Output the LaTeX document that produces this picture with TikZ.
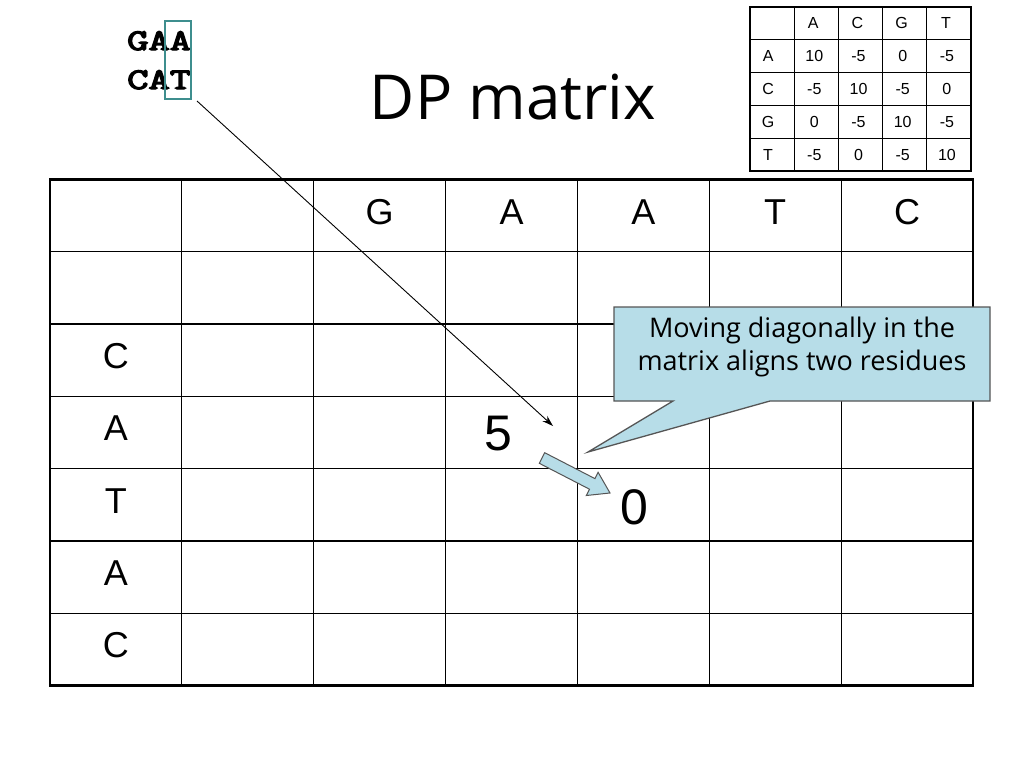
\documentclass[tikz,border=0pt]{standalone}
\usepackage{graphicx}
\usepackage{fontspec}
\setmainfont{Liberation Sans}
\newfontfamily\comicf{Open Sans}
\newfontfamily\courf[FakeBold=4]{Latin Modern Mono}
\usetikzlibrary{arrows.meta,calc}
\definecolor{calloutfill}{HTML}{B7DDE8}
\definecolor{calloutdraw}{HTML}{555555}
\definecolor{tealbox}{HTML}{3E8E8E}
\tikzset{
  cell/.style={inner sep=0pt, font=\fontsize{36}{40}\selectfont},
  bignum/.style={inner sep=0pt, font=\fontsize{50}{54}\selectfont},
  small/.style={inner sep=0pt, font=\fontsize{16}{18}\selectfont},
  seqtxt/.style={inner sep=0pt, anchor=base west, font=\courf\fontsize{30}{32}\selectfont},
  thinline/.style={line width=1.2pt, black},
  thickline/.style={line width=2.6pt, black},
}
\begin{document}
\begin{tikzpicture}[x=1pt,y=-1pt]
\useasboundingbox (0,0) rectangle (1024,768);
\fill[white] (0,0) rectangle (1024,768);

% ---------- main grid ----------
\def\gx{50}\def\gy{179.5}\def\cw{131.86}\def\rh{72.29}
\foreach \i in {1,...,6} \draw[thinline] ({\gx+\i*\cw},\gy) -- ({\gx+\i*\cw},{\gy+7*\rh});
\foreach \j in {1,...,6} \draw[thinline] (\gx,{\gy+\j*\rh}) -- ({\gx+7*\cw},{\gy+\j*\rh});
\draw[thickline] (\gx,\gy) rectangle ({\gx+7*\cw},{\gy+7*\rh});

% header letters
\foreach \l [count=\i from 2] in {G,A,A,T,C}
  \node[cell] (h\i) at ({\gx+(\i+0.5)*\cw},{\gy+0.5*\rh-4}) {\l};
\foreach \l [count=\j from 2] in {C,A,T,A,C}
  \node[cell] (r\j) at ({\gx+0.5*\cw},{\gy+(\j+0.5)*\rh-4}) {\l};

\node[bignum] (five) at (498,434) {5};
\node[bignum] (zero) at (634,507) {0};

% ---------- score table ----------
\def\sx{750}\def\sy{7}\def\scw{44.2}\def\srh{32.8}
\foreach \i in {1,...,4} \draw[line width=1pt] ({\sx+\i*\scw},\sy) -- ({\sx+\i*\scw},{\sy+5*\srh});
\foreach \j in {1,...,4} \draw[line width=1pt] (\sx,{\sy+\j*\srh}) -- ({\sx+5*\scw},{\sy+\j*\srh});
\draw[line width=2.4pt] (\sx,\sy) rectangle ({\sx+5*\scw},{\sy+5*\srh});
\foreach \l [count=\i] in {A,C,G,T}
  \node[small] (sh\i) at ({\sx+(\i+0.5)*\scw-3},{\sy+0.5*\srh}) {\l};
\foreach \l [count=\j] in {A,C,G,T}
  \node[small] (sr\j) at ({\sx+0.5*\scw-4},{\sy+(\j+0.5)*\srh}) {\l};
\foreach \row [count=\j] in {{10,-5,0,-5},{-5,10,-5,0},{0,-5,10,-5},{-5,0,-5,10}}
  \foreach \v [count=\i] in \row
    \node[small] (s\j\i) at ({\sx+(\i+0.5)*\scw-2},{\sy+(\j+0.5)*\srh}) {\v};

% ---------- title ----------
\node[inner sep=0pt, font=\comicf\fontsize{62}{64}\selectfont] (title) at (513,97) {DP matrix};

% ---------- sequences ----------
\node[seqtxt] (gaa) at (127,50) {\scalebox{1.38}[1]{GAA}};
\node[seqtxt] (cat) at (127,89) {\scalebox{1.38}[1]{CAT}};
\node[draw=tealbox, line width=2pt, minimum width=26pt, minimum height=78pt, inner sep=0pt] (colbox) at (178,60) {};

\coordinate (target) at (553,426);
\draw[line width=0.9pt, -{Stealth[length=11pt,width=7pt]}] (colbox.south east) ++(5,1) -- (target);

% ---------- callout ----------
\draw[draw=calloutdraw, fill=calloutfill, line width=1.3pt]
  (614,307) -- (990,307) -- (990,401) -- (770,401) -- (588,452) -- (673,401) -- (614,401) -- cycle;
\node[inner sep=0pt, align=center, font=\comicf\fontsize{27}{33}\selectfont] (callout) at (802,347)
  {Moving diagonally in the\\matrix aligns two residues};

% ---------- block arrow ----------
\draw[draw=calloutdraw, fill=calloutfill, line width=1pt]
  (539.3,463.3) -- (589.5,489.2) -- (586.3,495.5) -- (610,493) -- (598.1,472.3) -- (594.9,478.6) -- (544.7,452.7) -- cycle;
\end{tikzpicture}
\end{document}
